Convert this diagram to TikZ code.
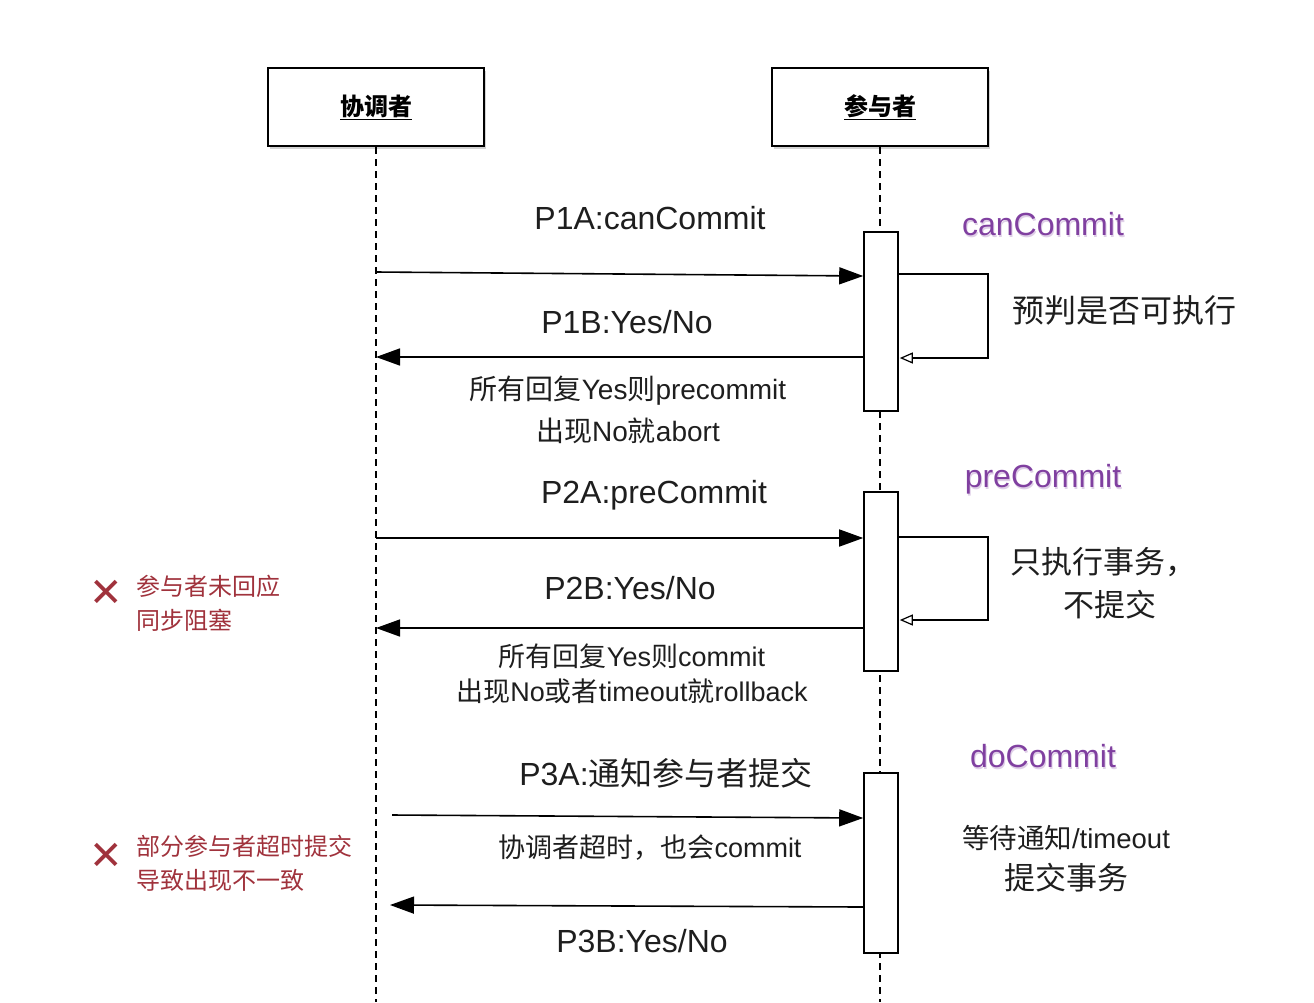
\documentclass[tikz,border=0pt]{standalone}
\usepackage{fontspec}
\setmainfont{Liberation Sans}
\newfontfamily\cjkf{Noto Sans CJK SC}
\newfontfamily\symf{DejaVu Sans}
\newcommand{\cj}[1]{{\cjkf #1}}
\usetikzlibrary{arrows.meta,shadows}
\definecolor{purp}{RGB}{128,64,160}
\definecolor{dred}{RGB}{160,50,60}
\definecolor{txt}{RGB}{30,30,30}
\begin{document}
\begin{tikzpicture}[x=1pt,y=-1pt,
  actor/.style={draw,line width=2pt,minimum width=216pt,minimum height=78pt,fill=white,
     drop shadow={shadow xshift=2pt,shadow yshift=-3pt,opacity=0.35}},
  act/.style={draw,line width=1.6pt,fill=white,minimum width=34pt,inner sep=0pt},
  life/.style={line width=1.2pt,dash pattern=on 7pt off 5pt},
  msg/.style={line width=1.6pt,-{Triangle[length=24pt,width=17pt]}},
  loop/.style={line width=1.4pt,-{Triangle[open,length=13pt,width=11pt,line width=1.2pt]}},
  lbl/.style={font=\fontsize{32}{38}\selectfont,text=txt,inner sep=0pt},
  sml/.style={font=\fontsize{27}{32}\selectfont,text=txt,inner sep=0pt},
  ph/.style={font=\fontsize{32}{38}\selectfont,text=purp,inner sep=0pt},
  phs/.style={font=\fontsize{32}{38}\selectfont,text=purp!25,inner sep=0pt},
  warn/.style={font=\fontsize{24}{34}\selectfont\cjkf,text=dred,inner sep=0pt,align=left,anchor=west},
  cross/.style={font=\fontsize{40}{40}\selectfont\symf,text=dred,inner sep=0pt}]
\useasboundingbox (0,0) rectangle (1314,1002);
% actors
\node[actor] (c) at (376,107) {\fontsize{24}{28}\selectfont\cjkf\bfseries\underline{协调者}};
\node[actor] (p) at (880,107) {\fontsize{24}{28}\selectfont\cjkf\bfseries\underline{参与者}};
\coordinate (cb) at (376,1002);
\coordinate (pb) at (880,1002);
\draw[life] (c.south) -- (cb);
\draw[life] (p.south) -- (pb);
% activation boxes
\node[act,minimum height=179pt] (a1) at (881,321.5) {};
\node[act,minimum height=179pt] (a2) at (881,581.5) {};
\node[act,minimum height=180pt] (a3) at (881,863) {};
% coordinates on coordinator lifeline
\coordinate (c1) at (376,272);
\coordinate (c2) at (376,357);
\coordinate (c3) at (376,538);
\coordinate (c4) at (376,628);
\coordinate (c5) at (392,815);
\coordinate (c6) at (390,905);
% messages
\draw[msg] (c1) -- (a1.west |- 0,276);
\draw[msg] (a1.west |- 0,357) -- (c2);
\draw[msg] (c3) -- (a2.west |- 0,538);
\draw[msg] (a2.west |- 0,628) -- (c4);
\draw[msg] (c5) -- (a3.west |- 0,818);
\draw[msg] (a3.west |- 0,907) -- (c6);
% self loops
\coordinate (l1) at (988,274);
\coordinate (l2) at (988,358);
\draw[loop] (a1.east |- l1) -- (l1) -- (l2) -- ([xshift=1pt]a1.east |- l2);
\coordinate (l3) at (988,537);
\coordinate (l4) at (988,620);
\draw[loop] (a2.east |- l3) -- (l3) -- (l4) -- ([xshift=1pt]a2.east |- l4);
% labels
\node[lbl] (t1) at (650,218) {P1A:canCommit};
\node[lbl] (t2) at (627,322) {P1B:Yes/No};
\node[sml,font=\fontsize{28}{32}\selectfont] (t3) at (628,391) {\cj{所有回复}Yes\cj{则}precommit};
\node[sml,font=\fontsize{28}{32}\selectfont] (t4) at (628,431) {\cj{出现}No\cj{就}abort};
\node[lbl] (t5) at (654,495) {P2A:preCommit};
\node[lbl] (t6) at (630,588) {P2B:Yes/No};
\node[sml] (t7) at (632,656) {\cj{所有回复}Yes\cj{则}commit};
\node[sml] (t8) at (632,691) {\cj{出现}No\cj{或者}timeout\cj{就}rollback};
\node[lbl] (t9) at (666,773) {P3A:\cj{通知参与者提交}};
\node[sml] (t10) at (650,848) {\cj{协调者超时，也会}commit};
\node[lbl] (t11) at (642,941) {P3B:Yes/No};
% phase names (with soft shadow)
\node[phs] (ph1s) at (1044,226) {canCommit};
\node[ph] (ph1) at (1043,224) {canCommit};
\node[phs] (ph2s) at (1044,481) {preCommit};
\node[ph] (ph2) at (1043,479) {preCommit};
\node[phs] (ph3s) at (1044,758) {doCommit};
\node[ph] (ph3) at (1043,756) {doCommit};
% participant notes
\node[lbl,font=\fontsize{32}{38}\selectfont\cjkf] (n1) at (1124,310) {预判是否可执行};
\node[lbl,font=\fontsize{31}{38}\selectfont\cjkf] (n2) at (1103,562) {只执行事务，};
\node[lbl,font=\fontsize{31}{38}\selectfont\cjkf] (n3) at (1110,605) {不提交};
\node[sml,font=\fontsize{27.5}{32}\selectfont] (n4) at (1066,838) {\cj{等待通知}/timeout};
\node[lbl,font=\fontsize{31}{38}\selectfont\cjkf] (n5) at (1066,878) {提交事务};
% warnings
\node[cross] (x1) at (106,593) {✕};
\node[warn] (w1) at (136,603) {参与者未回应\\同步阻塞};
\node[cross] (x2) at (106,856) {✕};
\node[warn] (w2) at (136,863) {部分参与者超时提交\\导致出现不一致};
\end{tikzpicture}
\end{document}
